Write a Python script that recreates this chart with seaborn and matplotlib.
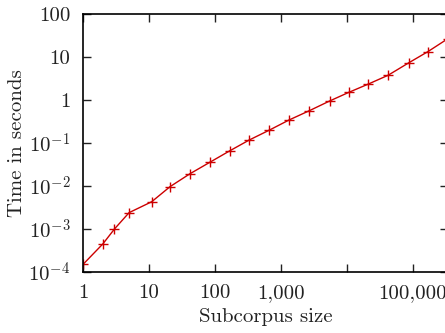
import matplotlib
matplotlib.use("Agg")
import matplotlib.pyplot as plt
import seaborn as sns
import pandas as pd
from matplotlib.ticker import FixedLocator, FixedFormatter, NullLocator

sizes = [1, 2, 3, 5, 11, 21, 42, 85, 169, 331, 674, 1336, 2720, 5525,
         10700, 21300, 42300, 87000, 170000, 340000]
times = [1.5e-4, 4.5e-4, 1.0e-3, 2.4e-3, 4.3e-3, 9.7e-3, 0.0193, 0.036,
         0.066, 0.117, 0.2, 0.343, 0.565, 0.95, 1.5, 2.35, 3.75, 7.3,
         13.3, 26.5]
x_ticks = [1, 10, 100, 1000, 10000, 100000]
x_tick_labels = ["1", "10", "100", "1,000", "", "100,000"]
y_ticks = [1e-4, 1e-3, 1e-2, 1e-1, 1, 10, 100]
y_tick_labels = [r"$10^{-4}$", r"$10^{-3}$", r"$10^{-2}$", r"$10^{-1}$", "1", "10", "100"]

sns.set_theme(style="ticks")
plt.rcParams["font.family"] = "cmr10"
plt.rcParams["mathtext.fontset"] = "cm"
plt.rcParams["axes.formatter.use_mathtext"] = True

df = pd.DataFrame({"size": sizes, "time": times})

fig = plt.figure(figsize=(4.45, 3.33), dpi=100)
ax = fig.add_axes([83 / 445, 1 - 272 / 333, (448 - 83) / 445, (272 - 14) / 333])
sns.lineplot(data=df, x="size", y="time", ax=ax, color="#cc0000", lw=1.0,
             marker="+", markersize=6.5, markeredgewidth=1.0, markeredgecolor="#cc0000")
ax.set_xscale("log")
ax.set_yscale("log")
ax.set_xlim(1, 344000)
ax.set_ylim(1e-4, 100)
ax.xaxis.set_major_locator(FixedLocator(x_ticks))
ax.xaxis.set_major_formatter(FixedFormatter(x_tick_labels))
ax.xaxis.set_minor_locator(NullLocator())
ax.yaxis.set_major_locator(FixedLocator(y_ticks))
ax.yaxis.set_major_formatter(FixedFormatter(y_tick_labels))
ax.yaxis.set_minor_locator(NullLocator())
ax.tick_params(direction="in", length=6, width=1.0, top=True, right=True,
               labelsize=15, colors="#222222")
ax.tick_params(axis="x", pad=9)
ax.tick_params(axis="y", pad=9)
for s in ax.spines.values():
    s.set_linewidth(1.2)
    s.set_color("black")
ax.set_xlabel("Subcorpus size", fontsize=15, labelpad=4, color="#222222")
ax.set_ylabel("Time in seconds", fontsize=15, labelpad=2, color="#222222")
fig.savefig("out.png", dpi=100)
